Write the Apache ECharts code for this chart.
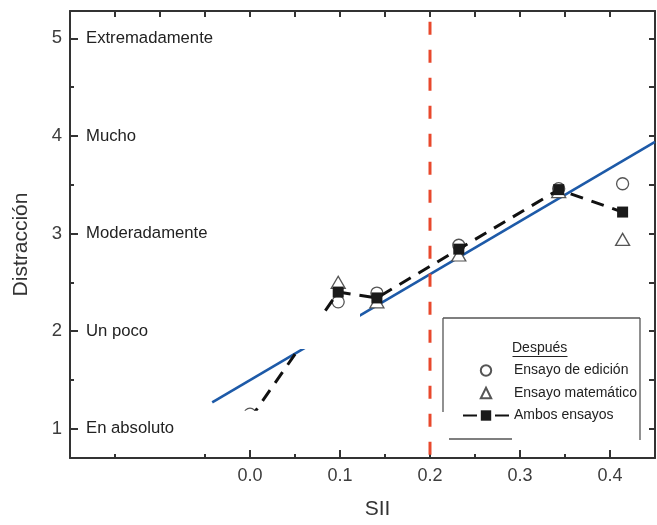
<!DOCTYPE html>
<html>
<head>
<meta charset="utf-8">
<script src="https://cdn.jsdelivr.net/npm/echarts@6/dist/echarts.min.js"></script>
<style>
  html, body { margin: 0; padding: 0; background: #ffffff; }
  #chart { width: 657px; height: 525px; }
</style>
</head>
<body>
<div id="chart"></div>
<script>
// SII values of the six groups and the mean distraction rating of each test
const sii = [0.0, 0.098, 0.141, 0.232, 0.343, 0.414];
const edicion = [1.15, 2.30, 2.39, 2.88, 3.46, 3.51];
const matematico = [1.05, 2.50, 2.30, 2.78, 3.43, 2.94];
const ambos = [1.10, 2.40, 2.34, 2.84, 3.45, 3.22];

// Linear fit over all groups (two end points)
const ajusteX = [-0.042, 0.45];
const ajusteY = [1.27, 3.94];

// Vertical threshold at SII = 0.2
const umbralX = 0.2;
const umbralY = [5.17, 0.72];

// Axis ticks and labels
const xEtiquetas = [0, 0.1, 0.2, 0.3, 0.4];
const xMenores = [-0.15, -0.05, 0.05, 0.15, 0.25, 0.35];
const xSuperior = [-0.15, -0.1, -0.05, 0, 0.05, 0.1, 0.15, 0.2, 0.25, 0.3, 0.35, 0.4];
const yNiveles = [1, 2, 3, 4, 5];
const yMedios = [1.5, 2.5, 3.5, 4.5];
const yDerecha = [1, 1.5, 2, 2.5, 3, 3.5, 4, 4.5, 5];
const escala = ['En absoluto', 'Un poco', 'Moderadamente', 'Mucho', 'Extremadamente'];
const nombres = ['Ensayo de edición', 'Ensayo matemático', 'Ambos ensayos'];

const SANS = '"Liberation Sans", Arial, sans-serif';
const AXIS = '#333333';

const pares = (xs, ys) => xs.map((x, i) => [x, ys[i]]);

const chart = echarts.init(document.getElementById('chart'), null, { renderer: 'canvas' });

const lineaEje = { show: true, onZero: false, lineStyle: { color: AXIS, width: 2 } };
const sinLinea = { show: false, onZero: false };

chart.setOption({
  animation: false,
  backgroundColor: '#ffffff',
  grid: { left: 70, right: 2, top: 11, bottom: 67, outerBoundsMode: 'none' },
  xAxis: [
    {
      type: 'value', position: 'bottom', min: -0.2, max: 0.45,
      axisLine: lineaEje,
      axisTick: { show: true, inside: true, length: 8, customValues: xEtiquetas, lineStyle: { color: AXIS, width: 2 } },
      axisLabel: { show: true, customValues: xEtiquetas, margin: 9, fontSize: 18, color: '#3d3d3d', fontFamily: SANS,
        formatter: v => v.toFixed(1) },
      splitLine: { show: false },
      name: 'SII', nameLocation: 'middle', nameGap: 41,
      nameTextStyle: { fontSize: 21, color: '#333', fontFamily: SANS, padding: [0, 0, 0, 30] }
    },
    {
      type: 'value', position: 'bottom', min: -0.2, max: 0.45,
      axisLine: sinLinea,
      axisTick: { show: true, inside: true, length: 4, customValues: xMenores, lineStyle: { color: AXIS, width: 2 } },
      axisLabel: { show: false }, splitLine: { show: false }
    },
    {
      type: 'value', position: 'top', min: -0.2, max: 0.45,
      axisLine: lineaEje,
      axisTick: { show: true, inside: true, length: 6, customValues: xSuperior, lineStyle: { color: AXIS, width: 2 } },
      axisLabel: { show: false }, splitLine: { show: false }
    }
  ],
  yAxis: [
    {
      type: 'value', position: 'left', min: 0.7, max: 5.28,
      axisLine: lineaEje,
      axisTick: { show: true, inside: true, length: 8, customValues: yNiveles, lineStyle: { color: AXIS, width: 2 } },
      axisLabel: { show: true, customValues: yNiveles, margin: 8, fontSize: 18.5, color: '#3d3d3d', fontFamily: SANS },
      splitLine: { show: false },
      name: 'Distracción', nameLocation: 'middle', nameRotate: 90, nameGap: 38,
      nameTextStyle: { fontSize: 21, color: '#333', fontFamily: SANS, padding: [0, 20, 0, 0] }
    },
    {
      type: 'value', position: 'left', min: 0.7, max: 5.28,
      axisLine: sinLinea,
      axisTick: { show: true, inside: true, length: 4, customValues: yMedios, lineStyle: { color: AXIS, width: 2 } },
      axisLabel: { show: false }, splitLine: { show: false }
    },
    {
      type: 'value', position: 'right', min: 0.7, max: 5.28,
      axisLine: lineaEje,
      axisTick: { show: true, inside: true, length: 6, customValues: yDerecha, lineStyle: { color: AXIS, width: 2 } },
      axisLabel: { show: false }, splitLine: { show: false }
    },
    {
      // verbal rating scale written inside the plot, on white label boxes
      type: 'value', position: 'left', min: 0.7, max: 5.28, z: 6,
      axisLine: sinLinea, axisTick: { show: false }, splitLine: { show: false },
      axisLabel: {
        show: true, inside: true, margin: 16, customValues: yNiveles,
        formatter: v => '{caja|' + escala[Math.round(v) - 1] + '}',
        rich: {
          caja: { backgroundColor: '#ffffff', width: 274, height: 36, fontSize: 16.7, color: '#222', fontFamily: SANS }
        }
      }
    }
  ],
  legend: {
    data: nombres,
    orient: 'vertical',
    left: 462, top: 363.5,
    padding: 0,
    itemWidth: 46, itemHeight: 13, itemGap: 8.5,
    selectedMode: false,
    lineStyle: { type: [14, 18] },
    textStyle: { fontSize: 14, color: '#222', fontFamily: SANS }
  },
  graphic: [
    { type: 'line', shape: { x1: 443, y1: 318, x2: 640, y2: 318 }, style: { stroke: '#555', lineWidth: 1.3 } },
    { type: 'line', shape: { x1: 640, y1: 318, x2: 640, y2: 440 }, style: { stroke: '#555', lineWidth: 1.3 } },
    { type: 'line', shape: { x1: 443, y1: 318, x2: 443, y2: 412 }, style: { stroke: '#555', lineWidth: 1.3 } },
    { type: 'line', shape: { x1: 449, y1: 439, x2: 512, y2: 439 }, style: { stroke: '#555', lineWidth: 1.3 } },
    { type: 'text', left: 512, top: 341, style: { text: 'Después', fontSize: 14, fill: '#222', fontFamily: SANS } },
    { type: 'line', shape: { x1: 512.5, y1: 356.5, x2: 567.5, y2: 356.5 }, style: { stroke: '#222', lineWidth: 1.2 } }
  ],
  series: [
    {
      name: 'Ajuste', type: 'line', xAxisIndex: 0, yAxisIndex: 0, z: 2,
      data: pares(ajusteX, ajusteY), symbol: 'none', silent: true,
      lineStyle: { color: '#1d5aa8', width: 2.6 }
    },
    {
      name: 'Umbral', type: 'line', xAxisIndex: 0, yAxisIndex: 0, z: 2,
      data: umbralY.map(y => [umbralX, y]), symbol: 'none', silent: true,
      lineStyle: { color: '#e8482c', width: 3, type: [13, 15] }
    },
    {
      name: nombres[0], type: 'line', xAxisIndex: 0, yAxisIndex: 0, z: 3,
      data: pares(sii, edicion), symbol: 'circle', symbolSize: 12, showSymbol: true,
      lineStyle: { width: 0 },
      itemStyle: { color: '#ffffff', borderColor: '#555', borderWidth: 1.3 }
    },
    {
      name: nombres[1], type: 'line', xAxisIndex: 0, yAxisIndex: 0, z: 3,
      data: pares(sii, matematico), symbol: 'triangle', symbolSize: [14, 12], showSymbol: true,
      lineStyle: { width: 0 },
      itemStyle: { color: '#ffffff', borderColor: '#555', borderWidth: 1.3 }
    },
    {
      name: nombres[2], type: 'line', xAxisIndex: 0, yAxisIndex: 0, z: 4,
      data: pares(sii, ambos), symbol: 'rect', symbolSize: 11, showSymbol: true,
      lineStyle: { color: '#111', width: 3, type: [13, 9] },
      itemStyle: { color: '#1a1a1a', borderColor: '#1a1a1a', borderWidth: 0 }
    }
  ]
});
</script>
</body>
</html>
